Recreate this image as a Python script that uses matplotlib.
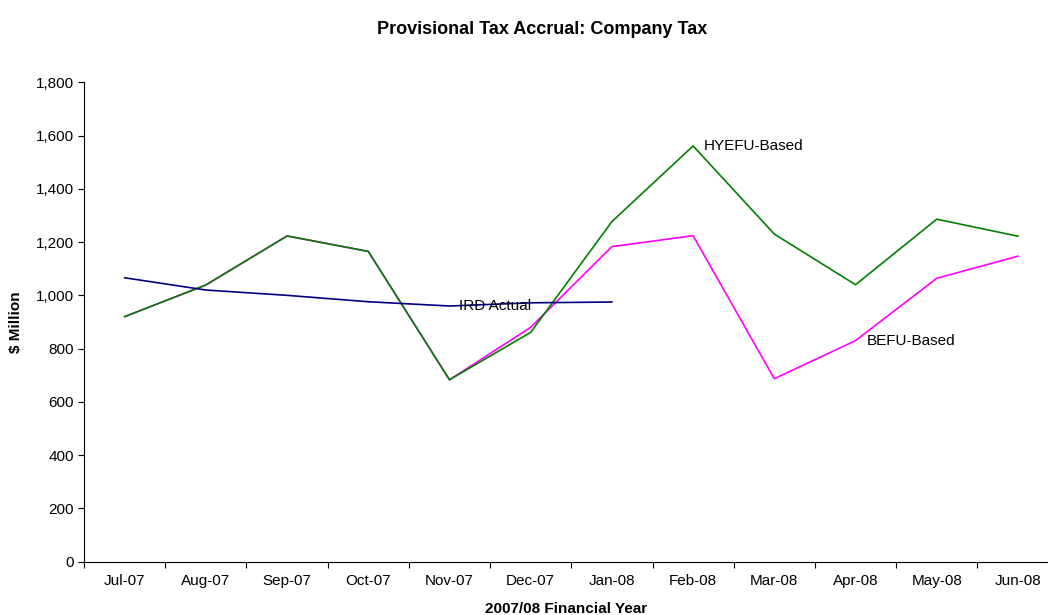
import numpy as np
import matplotlib.pyplot as plt
from matplotlib.ticker import FuncFormatter, FixedLocator

plt.rcParams["font.family"] = ["Liberation Sans", "DejaVu Sans"]

# DATA

months = ["Jul-07", "Aug-07", "Sep-07", "Oct-07", "Nov-07", "Dec-07",
          "Jan-08", "Feb-08", "Mar-08", "Apr-08", "May-08", "Jun-08"]

hyefu = [920, 1039, 1223, 1165, 683, 861, 1277, 1561, 1230, 1040, 1286, 1222]
befu = [920, 1039, 1223, 1165, 683, 880, 1183, 1224, 687, 830, 1064, 1147]
ird_actual = [1066, 1020, 1000, 976, 960, 972, 975]

x = np.arange(len(months))

# PLOT

fig = plt.figure(figsize=(10.48, 6.15), dpi=100)
ax = fig.add_axes([0.0802, 0.0867, 0.9198, 0.7795])

ax.plot(x, befu, color="#FF00FF", lw=1.2)
ax.plot(x, hyefu, color="#008000", lw=1.2)
ax.plot(x[:len(ird_actual)], ird_actual, color="#000080", lw=1.2)

ax.text(4.12, 960, "IRD Actual", fontsize=11, va="center", ha="left")
ax.text(7.13, 1561, "HYEFU-Based", fontsize=11, va="center", ha="left")
ax.text(9.14, 830, "BEFU-Based", fontsize=11, va="center", ha="left")

ax.set_xlim(-0.5, 11.37)
ax.set_ylim(0, 1800)
ax.set_yticks(np.arange(0, 1801, 200))
ax.yaxis.set_major_formatter(FuncFormatter(lambda v, p: f"{int(v):,}"))

ax.xaxis.set_major_locator(FixedLocator(np.arange(-0.5, 12, 1)))
ax.xaxis.set_minor_locator(FixedLocator(x))
ax.set_xticklabels([], minor=False)
ax.set_xticklabels(months, minor=True)
ax.tick_params(axis="x", which="minor", length=0, pad=9, labelsize=11)
ax.tick_params(axis="x", which="major", length=4, direction="out")
ax.tick_params(axis="y", length=4, direction="out", labelsize=11)

ax.spines["top"].set_visible(False)
ax.spines["right"].set_visible(False)

ax.set_xlabel("2007/08 Financial Year", fontsize=11, fontweight="bold", labelpad=10)
ax.set_ylabel("\\$ Million", fontsize=11, fontweight="bold", labelpad=9)

fig.suptitle("Provisional Tax Accrual: Company Tax", fontsize=13,
             fontweight="bold", x=0.517, y=0.952, va="center")

plt.savefig("out.png", dpi=100)
